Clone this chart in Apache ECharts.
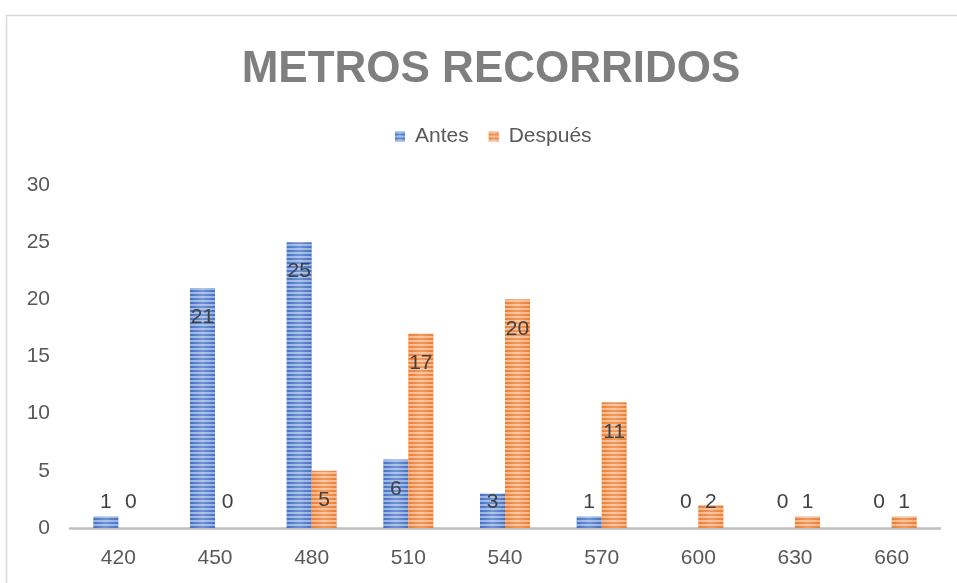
<!DOCTYPE html>
<html>
<head>
<meta charset="utf-8">
<script src="https://cdn.jsdelivr.net/npm/echarts@6/dist/echarts.min.js"></script>
<style>
html,body{margin:0;padding:0;background:#fff;}
#chart{width:957px;height:583px;}
</style>
</head>
<body>
<div id="chart"></div>
<script>
const categories = ['420', '450', '480', '510', '540', '570', '600', '630', '660'];
const seriesNames = ['Antes', 'Después'];
const antes = [1, 21, 25, 6, 3, 1, 0, 0, 0];
const despues = [0, 0, 5, 17, 20, 11, 2, 1, 1];
const yTicks = [0, 5, 10, 15, 20, 25, 30];

const FONT = '"Liberation Sans", Arial, sans-serif';
const labelBig = { show: true, position: 'insideTop', distance: 19, fontSize: 21, color: '#404040', fontFamily: FONT };
const labelSmall = { show: true, position: 'insideBottom', distance: 15, fontSize: 21, color: '#404040', fontFamily: FONT };

function withLabels(arr) {
  return arr.map(v => ({ value: v, label: v >= 5 ? labelBig : labelSmall }));
}

function grad(edge, mid) {
  return new echarts.graphic.LinearGradient(0, 0, 1, 0, [
    { offset: 0, color: edge },
    { offset: 0.5, color: mid },
    { offset: 1, color: edge }
  ]);
}

const stripe = (c) => ({
  symbol: 'rect',
  symbolSize: 1,
  dashArrayX: [1, 0],
  dashArrayY: [2, 2],
  rotation: 0,
  color: c
});

const chart = echarts.init(document.getElementById('chart'), null, { renderer: 'canvas' });
chart.setOption({
  animation: false,
  backgroundColor: '#ffffff',
  title: {
    text: 'METROS RECORRIDOS',
    left: 486,
    textAlign: 'center',
    top: 43,
    textStyle: { fontFamily: FONT, fontSize: 44, fontWeight: 'bold', color: '#7f7f7f' }
  },
  legend: {
    data: seriesNames,
    left: 390,
    top: 121,
    icon: 'rect',
    itemWidth: 10,
    itemHeight: 10,
    itemGap: 20,
    textStyle: { fontFamily: FONT, fontSize: 21, color: '#595959', padding: [0, 0, 0, 5] }
  },
  grid: { left: 70, right: 17, top: 185, bottom: 55, containLabel: false },
  xAxis: {
    type: 'category',
    data: categories,
    axisLine: { show: true, lineStyle: { color: '#bfbfbf', width: 2.5 } },
    axisTick: { show: false },
    axisLabel: { fontFamily: FONT, fontSize: 21, color: '#595959', margin: 20 }
  },
  yAxis: {
    type: 'value',
    min: yTicks[0],
    max: yTicks[yTicks.length - 1],
    interval: yTicks[1] - yTicks[0],
    axisLine: { show: false },
    axisTick: { show: false },
    splitLine: { show: false },
    axisLabel: { fontFamily: FONT, fontSize: 21, color: '#595959', margin: 20 }
  },
  series: [
    {
      name: seriesNames[0],
      type: 'bar',
      barWidth: 25,
      barGap: '0%',
      data: withLabels(antes),
      itemStyle: {
        color: grad('#4472c4', '#6f93d6'),
        decal: stripe('rgba(255,255,255,0.45)')
      }
    },
    {
      name: seriesNames[1],
      type: 'bar',
      barWidth: 25,
      barGap: '0%',
      data: withLabels(despues),
      itemStyle: {
        color: grad('#ed7d31', '#f39a5c'),
        decal: stripe('rgba(255,255,255,0.45)')
      }
    }
  ],
  graphic: [
    {
      type: 'rect',
      left: 4,
      top: 13,
      shape: { x: 0, y: 0, width: 1200, height: 800 },
      style: { fill: 'none', stroke: '#d9d9d9', lineWidth: 1.5 },
      silent: true,
      z: -1
    }
  ]
});
</script>
</body>
</html>
